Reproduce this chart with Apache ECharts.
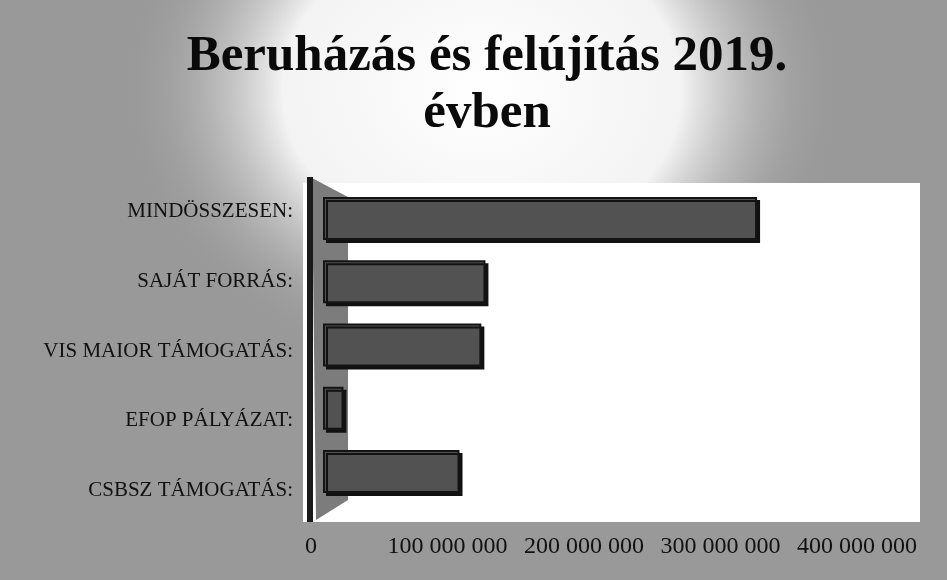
<!DOCTYPE html>
<html>
<head>
<meta charset="utf-8">
<script src="https://cdn.jsdelivr.net/npm/echarts@6/dist/echarts.min.js"></script>
<style>
	html, body { margin: 0; padding: 0; }
	#chart-container { width: 947px; height: 580px; }
</style>
</head>
<body>
<div id="chart-container"></div>
<script>
var kategoriak = ['MINDÖSSZESEN:', 'SAJÁT FORRÁS:', 'VIS MAIOR TÁMOGATÁS:', 'EFOP PÁLYÁZAT:', 'CSBSZ TÁMOGATÁS:'];
var ertekek = [318000000, 119000000, 116000000, 15000000, 100000000];
var tengely_min = 0;
var tengely_max = 400000000;
var tengely_lepes = 100000000;

var serif = "'Liberation Serif', 'DejaVu Serif', serif";

function ezres(value) {
	return value.toString().replace(/\B(?=(\d{3})+(?!\d))/g, ' ');
}

var chart = echarts.init(document.getElementById('chart-container'));
var option = {
	backgroundColor: '#999999',
	animation: false,
	title: {
		text: 'Beruházás és felújítás 2019.\névben',
		left: 482,
		top: 23,
		textAlign: 'center',
		textStyle: {
			fontFamily: serif,
			fontWeight: 'bold',
			fontSize: 51,
			lineHeight: 57,
			color: '#0a0a0a'
		}
	},
	graphic: [
		{
			type: 'circle',
			z: -10,
			x: 482, y: 90,
			scaleX: 1.25,
			shape: { cx: 0, cy: 0, r: 290 },
			style: {
				fill: {
					type: 'radial', x: 0.5, y: 0.5, r: 0.5,
					colorStops: [
						{ offset: 0, color: 'rgba(255,255,255,1)' },
						{ offset: 0.55, color: 'rgba(248,248,248,0.95)' },
						{ offset: 1, color: 'rgba(153,153,153,0)' }
					]
				}
			}
		},
		{
			// feher rajzterulet
			type: 'rect',
			z: -5,
			shape: { x: 303, y: 183, width: 617, height: 339 },
			style: { fill: '#ffffff' }
		},
		{
			// 3D padlo bal oldalon
			type: 'polygon',
			z: -4,
			shape: { points: [[312, 178], [348, 197], [348, 500], [316, 520]] },
			style: { fill: '#7c7c7c' }
		},
		{
			type: 'rect',
			z: -3,
			shape: { x: 307, y: 177, width: 6, height: 345 },
			style: { fill: '#1a1a1a' }
		}
	],
	grid: [
		{ left: 323, right: 78, top: 187, bottom: 77 },
		{ left: 311, right: 90, top: 177, bottom: 55 }
	],
	xAxis: [
		{
			gridIndex: 0,
			type: 'value',
			min: tengely_min,
			max: tengely_max,
			interval: tengely_lepes,
			show: false
		},
		{
			gridIndex: 1,
			type: 'value',
			min: tengely_min,
			max: tengely_max,
			interval: tengely_lepes,
			axisLine: { show: false },
			axisTick: { show: false },
			splitLine: { show: false },
			axisLabel: {
				margin: 10,
				fontFamily: serif,
				fontSize: 24,
				color: '#111111',
				formatter: ezres
			}
		}
	],
	yAxis: [
		{
			gridIndex: 0,
			type: 'category',
			inverse: true,
			data: kategoriak,
			show: false
		},
		{
			gridIndex: 1,
			type: 'category',
			inverse: true,
			data: kategoriak,
			axisLine: { show: false },
			axisTick: { show: false },
			axisLabel: {
				margin: 18,
				fontFamily: serif,
				fontSize: 21,
				color: '#111111'
			}
		}
	],
	series: [
		{
			name: 'Beruházás',
			type: 'bar',
			xAxisIndex: 0,
			yAxisIndex: 0,
			data: ertekek,
			barWidth: 43,
			itemStyle: {
				color: '#525252',
				borderColor: '#141414',
				borderWidth: 2,
				shadowColor: '#111111',
				shadowOffsetX: 3,
				shadowOffsetY: 3,
				shadowBlur: 0
			}
		}
	]
};

chart.setOption(option);
</script>
</body>
</html>
